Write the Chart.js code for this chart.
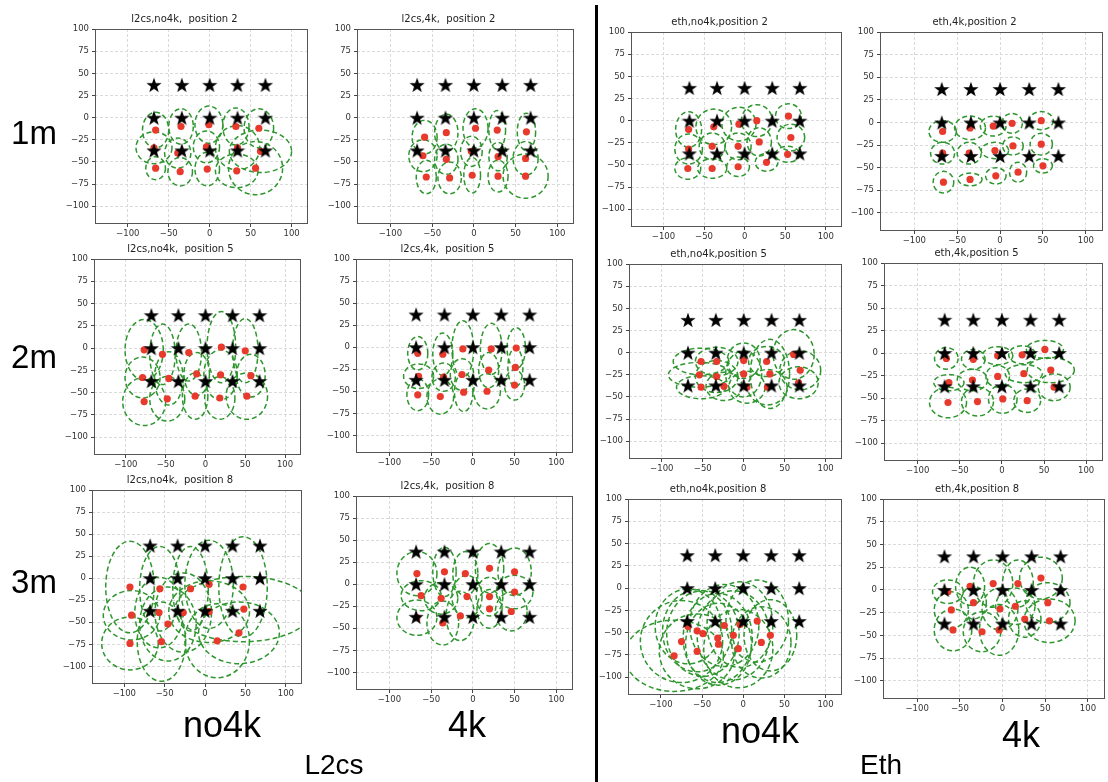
<!DOCTYPE html>
<html>
<head>
<meta charset="utf-8">
<script src="https://cdn.jsdelivr.net/npm/chart.js@4.4.1/dist/chart.umd.min.js"></script>
<style>
body { margin: 0; background: #fff; width: 1108px; height: 782px; overflow: hidden; position: relative; font-family: "Liberation Sans", Arial, sans-serif; }
.panel { position: absolute; }
.lbl { position: absolute; color: #000; transform: translate(-50%, -50%); white-space: nowrap; }
#divider { position: absolute; left: 595px; top: 5px; width: 3px; height: 777px; background: #000; }
</style>
</head>
<body>
<div id="divider"></div>
<script>
const xTicks = [-100, -50, 0, 50, 100];
const yTicks = [-100, -75, -50, -25, 0, 25, 50, 75, 100];
const starX = [-68, -34, 0, 34, 68];
const starY = [37, 0, -37];

// each row: [x, y, ellipse half-width, ellipse half-height]
const l2csNo4kPos2 = [
    [-66, -14, 16, 20], [-35, -10, 15, 20], [-1, -8, 17, 21], [32, -10, 16, 21], [60, -12, 18, 22],
    [-68, -34, 22, 18], [-39, -40, 16, 17], [-4, -33, 16, 18], [34, -34, 27, 25], [62, -38, 38, 24],
    [-66, -57, 12, 13], [-36, -61, 15, 16], [-3, -58, 15, 19], [33, -60, 26, 19], [56, -57, 33, 30]
];
const l2cs4kPos2 = [
    [-59, -22, 15, 19], [-33, -17, 14, 21], [2, -12, 15, 22], [28, -14, 10, 22], [63, -16, 11, 21],
    [-61, -43, 17, 18], [-33, -47, 14, 17], [-3, -38, 13, 17], [29, -44, 11, 16], [62, -46, 15, 19],
    [-57, -67, 12, 19], [-29, -68, 14, 18], [-2, -65, 10, 20], [29, -66, 12, 18], [62, -66, 27, 25]
];
const ethNo4kPos2 = [
    [-69, -10, 16, 20], [-38, -7, 22, 20], [-7, -4, 21, 19], [15, 0, 19, 18], [54, 5, 16, 14],
    [-69, -32, 17, 17], [-40, -29, 16, 15], [-8, -29, 16, 15], [18, -24, 15, 16], [57, -19, 17, 15],
    [-70, -54, 16, 12], [-40, -54, 18, 11], [-8, -52, 14, 11], [27, -47, 14, 10], [53, -38, 15, 9]
];
const eth4kPos2 = [
    [-67, -10, 16, 12], [-35, -6, 18, 13], [-8, -4, 15, 11], [14, -1, 12, 11], [48, 2, 14, 10],
    [-67, -34, 14, 12], [-36, -34, 14, 12], [-6, -31, 16, 9], [15, -26, 12, 10], [48, -24, 13, 12],
    [-66, -66, 12, 12], [-35, -63, 14, 7], [-5, -59, 12, 9], [21, -55, 10, 11], [50, -48, 11, 8]
];
const l2csNo4kPos5 = [
    [-77, -2, 24, 34], [-54, -7, 16, 34], [-21, -5, 16, 32], [20, 1, 18, 40], [50, -3, 16, 36],
    [-79, -33, 22, 23], [-46, -34, 18, 30], [-11, -29, 16, 24], [19, -30, 21, 28], [57, -31, 18, 24],
    [-77, -60, 27, 27], [-48, -57, 22, 25], [-13, -54, 16, 26], [18, -56, 19, 24], [52, -54, 26, 26]
];
const l2cs4kPos5 = [
    [-66, -7, 12, 19], [-36, -8, 12, 24], [-12, -2, 13, 32], [22, -2, 13, 29], [52, -1, 11, 23],
    [-65, -33, 18, 14], [-35, -34, 14, 16], [-13, -31, 14, 18], [19, -26, 12, 20], [51, -23, 9, 22],
    [-66, -54, 13, 18], [-39, -56, 16, 20], [-11, -51, 11, 22], [17, -50, 16, 20], [50, -43, 12, 17]
];
const ethNo4kPos5 = [
    [-52, -10, 34, 15], [-33, -10, 26, 16], [0, -9, 20, 20], [28, -10, 22, 17], [61, -2, 25, 28],
    [-54, -25, 38, 14], [-33, -27, 26, 18], [0, -24, 22, 26], [32, -24, 24, 39], [69, -20, 25, 22],
    [-52, -39, 30, 13], [-24, -38, 22, 16], [4, -39, 22, 18], [29, -39, 24, 20], [67, -34, 24, 18]
];
const eth4kPos5 = [
    [-66, -6, 14, 12], [-34, -7, 14, 11], [-5, -3, 18, 10], [24, -2, 16, 10], [51, 4, 22, 10],
    [-63, -33, 18, 9], [-35, -30, 18, 12], [-5, -26, 14, 12], [26, -23, 22, 10], [58, -19, 28, 14],
    [-64, -55, 22, 17], [-29, -54, 19, 16], [1, -51, 17, 16], [30, -53, 16, 13], [62, -38, 19, 15]
];
const l2csNo4kPos8 = [
    [-93, -10, 30, 52], [-56, -12, 25, 48], [-18, -12, 22, 48], [5, -7, 30, 50], [47, -10, 30, 57],
    [-91, -42, 35, 28], [-57, -39, 30, 40], [-27, -39, 35, 45], [5, -38, 50, 35], [48, -35, 85, 37],
    [-93, -74, 35, 30], [-54, -72, 30, 45], [-46, -52, 35, 42], [15, -71, 40, 42], [42, -62, 50, 35]
];
const l2cs4kPos8 = [
    [-67, 12, 24, 25], [-34, 14, 14, 28], [-9, 12, 15, 25], [20, 18, 17, 28], [50, 14, 20, 27],
    [-62, -13, 24, 17], [-38, -16, 20, 18], [-7, -14, 18, 24], [20, -14, 16, 22], [50, -9, 22, 19],
    [-67, -38, 24, 20], [-36, -44, 19, 25], [-15, -36, 17, 28], [20, -28, 15, 22], [46, -31, 19, 22]
];
const ethNo4kPos8 = [
    [-67, -43, 40, 42], [-56, -48, 42, 46], [-49, -51, 44, 48], [-75, -60, 50, 46], [-56, -71, 46, 42],
    [-84, -76, 60, 40], [-31, -56, 42, 50], [-30, -63, 40, 46], [-23, -42, 42, 46], [-12, -53, 44, 50],
    [-4, -41, 40, 48], [-6, -68, 42, 44], [17, -37, 38, 46], [22, -61, 36, 40], [33, -53, 32, 40]
];
const eth4kPos8 = [
    [-64, -2, 18, 13], [-38, 4, 17, 21], [-11, 7, 23, 26], [18, 7, 18, 26], [45, 13, 25, 23],
    [-60, -22, 20, 20], [-34, -14, 15, 18], [-3, -21, 21, 23], [15, -18, 23, 20], [53, -14, 26, 22],
    [-58, -44, 22, 23], [-24, -46, 22, 22], [-4, -44, 23, 28], [26, -32, 19, 20], [55, -34, 30, 24]
];

// where x=-100/100 and y=100/-100 land on the page for each panel
const panels = [
    { title: 'l2cs,no4k,  position 2', data: l2csNo4kPos2, px: [129, 297], py: [29, 206] },
    { title: 'l2cs,4k,  position 2', data: l2cs4kPos2, px: [391, 563], py: [29, 206] },
    { title: 'eth,no4k,position 2', data: ethNo4kPos2, px: [664, 831], py: [32, 209] },
    { title: 'eth,4k,position 2', data: eth4kPos2, px: [915, 1091], py: [32, 213] },
    { title: 'l2cs,no4k,  position 5', data: l2csNo4kPos5, px: [127, 291], py: [259, 437] },
    { title: 'l2cs,4k,  position 5', data: l2cs4kPos5, px: [390, 562], py: [259, 435] },
    { title: 'eth,no4k,position 5', data: ethNo4kPos5, px: [663, 831], py: [264, 441] },
    { title: 'eth,4k,position 5', data: eth4kPos5, px: [919, 1092], py: [263, 443] },
    { title: 'l2cs,no4k,  position 8', data: l2csNo4kPos8, px: [125, 291], py: [490, 666] },
    { title: 'l2cs,4k,  position 8', data: l2cs4kPos8, px: [390, 562], py: [496, 672] },
    { title: 'eth,no4k,position 8', data: ethNo4kPos8, px: [662, 831], py: [499, 677] },
    { title: 'eth,4k,position 8', data: eth4kPos8, px: [918, 1093], py: [499, 681] }
];

const labels = [
    { text: '1m', x: 34, y: 133, size: 33 },
    { text: '2m', x: 34, y: 357, size: 33 },
    { text: '3m', x: 34, y: 582, size: 33 },
    { text: 'no4k', x: 222, y: 725, size: 36 },
    { text: '4k', x: 467, y: 725, size: 36 },
    { text: 'L2cs', x: 334, y: 765, size: 28 },
    { text: 'no4k', x: 760, y: 731, size: 36 },
    { text: '4k', x: 1021, y: 735, size: 36 },
    { text: 'Eth', x: 881, y: 765, size: 28 }
];

const TITLE_H = 18, YAXIS_W = 40, XAXIS_H = 20;

function makeStar(size) {
    const c = document.createElement('canvas');
    c.width = c.height = size;
    const g = c.getContext('2d');
    const R = size / 2, r = R * 0.4, cx = size / 2, cy = size / 2 + size * 0.05;
    g.beginPath();
    for (let i = 0; i < 10; i++) {
        const a = -Math.PI / 2 + i * Math.PI / 5;
        const rad = i % 2 ? r : R;
        g.lineTo(cx + rad * Math.cos(a), cy + rad * Math.sin(a));
    }
    g.closePath();
    g.fillStyle = '#000';
    g.fill();
    return c;
}
const starImg = makeStar(16);

const fmt = v => v < 0 ? '\u2212' + Math.abs(v) : String(v);

function ellipses(items) {
    return {
        id: 'ellipses',
        beforeDatasetsDraw(chart) {
            const { ctx, chartArea: a, scales: { x, y } } = chart;
            ctx.save();
            ctx.beginPath();
            ctx.rect(a.left, a.top, a.right - a.left, a.bottom - a.top);
            ctx.clip();
            ctx.strokeStyle = '#2e962e';
            ctx.lineWidth = 1.5;
            ctx.setLineDash([5, 3]);
            for (const [ex, ey, rx, ry] of items) {
                const cx = x.getPixelForValue(ex), cy = y.getPixelForValue(ey);
                const w = Math.abs(x.getPixelForValue(ex + rx) - cx);
                const h = Math.abs(y.getPixelForValue(ey + ry) - cy);
                ctx.beginPath();
                ctx.ellipse(cx, cy, w, h, 0, 0, Math.PI * 2);
                ctx.stroke();
            }
            ctx.restore();
        }
    };
}

const frame = {
    id: 'frame',
    afterDatasetsDraw(chart) {
        const { ctx, chartArea: a } = chart;
        ctx.save();
        ctx.strokeStyle = '#555';
        ctx.lineWidth = 1;
        ctx.strokeRect(a.left + 0.5, a.top + 0.5, a.right - a.left - 1, a.bottom - a.top - 1);
        ctx.restore();
    }
};

const tickFont = { family: 'DejaVu Sans', size: 8.5 };

panels.forEach(p => {
    const ux = (p.px[1] - p.px[0]) / 200, uy = (p.py[1] - p.py[0]) / 200;
    const L = Math.round(p.px[0] - 40 * ux), R = Math.round(p.px[1] + 20 * ux);
    const T = Math.round(p.py[0]), B = Math.round(p.py[1] + 20 * uy);
    const div = document.createElement('div');
    div.className = 'panel';
    div.style.left = (L - YAXIS_W) + 'px';
    div.style.top = (T - TITLE_H) + 'px';
    const canvas = document.createElement('canvas');
    canvas.width = R - L + YAXIS_W + 2;
    canvas.height = B - T + TITLE_H + XAXIS_H;
    div.appendChild(canvas);
    document.body.appendChild(div);

    const stars = [];
    starY.forEach(y => starX.forEach(x => stars.push({ x, y })));
    const dots = p.data.map(d => ({ x: d[0], y: d[1] }));

    new Chart(canvas, {
        type: 'scatter',
        data: {
            datasets: [
                { data: stars, pointStyle: starImg, pointRadius: 7 },
                { data: dots, pointStyle: 'circle', pointRadius: 3.6, backgroundColor: '#e83a2c', borderWidth: 0 }
            ]
        },
        options: {
            responsive: false,
            animation: false,
            events: [],
            layout: { padding: { left: 0, right: 2, top: 0, bottom: 0 } },
            plugins: {
                legend: { display: false },
                tooltip: { enabled: false },
                title: {
                    display: true, text: p.title, color: '#222',
                    font: { family: 'DejaVu Sans', size: 10, weight: 'normal' },
                    padding: { top: 2, bottom: 4 }
                }
            },
            scales: {
                x: {
                    type: 'linear', min: -140, max: 120,
                    afterBuildTicks: s => { s.ticks = xTicks.map(v => ({ value: v })); },
                    afterFit: s => { s.height = XAXIS_H; },
                    grid: { color: '#dadada', tickColor: '#444', tickLength: 3 },
                    border: { display: false, dash: [3, 2] },
                    ticks: { font: tickFont, color: '#333', padding: 2, maxRotation: 0, callback: fmt }
                },
                y: {
                    type: 'linear', min: -120, max: 100,
                    afterBuildTicks: s => { s.ticks = yTicks.map(v => ({ value: v })); },
                    afterFit: s => { s.width = YAXIS_W; },
                    grid: { color: '#dadada', tickColor: '#444', tickLength: 3 },
                    border: { display: false, dash: [3, 2] },
                    ticks: { font: tickFont, color: '#333', padding: 3, callback: fmt }
                }
            }
        },
        plugins: [ellipses(p.data), frame]
    });
});

labels.forEach(l => {
    const d = document.createElement('div');
    d.className = 'lbl';
    d.textContent = l.text;
    d.style.left = l.x + 'px';
    d.style.top = l.y + 'px';
    d.style.fontSize = l.size + 'px';
    document.body.appendChild(d);
});
</script>
</body>
</html>
